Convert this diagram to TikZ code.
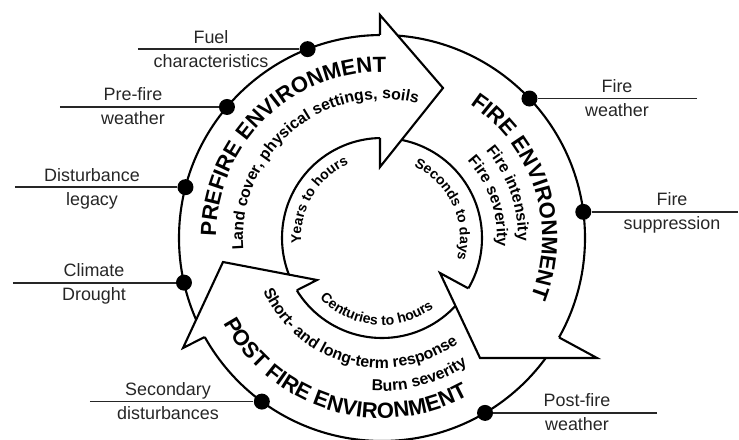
\documentclass[tikz,border=0pt]{standalone}
\usepackage{fontspec}
\setmainfont{Liberation Sans}
\usetikzlibrary{decorations.text}
\usetikzlibrary{calc}
\newcommand\envfont{\bfseries\fontsize{12.5}{14}\selectfont}
\newcommand\notefont{\bfseries\fontsize{9}{11}\selectfont}
\newcommand\timefont{\bfseries\fontsize{8}{10}\selectfont}
\tikzset{
  ring/.style={line width=1.2pt},
  dot/.style={circle, fill, inner sep=0pt, minimum size=0.32cm},
  lab/.style={font=\fontsize{10.2}{12}\selectfont, text=black!85, inner sep=0pt, anchor=base},
  arctext/.style={decorate, decoration={text along path, text align=center, text={#1}}}
}
\begin{document}
\begin{tikzpicture}[x=0.02cm,y=0.02cm]
\useasboundingbox (-382,-201) rectangle (357,238);
\draw[ring] (0,0) circle[radius=203];
\draw[ring] (0,0) circle[radius=100];
% heads
\coordinate (preA) at (-2,203);
\coordinate (preO) at (-2,223);
\coordinate (preT) at (61,150);
\coordinate (preI) at (-2,71);
\coordinate (preB) at (-2,100);
\fill[white] (preO) -- (preT) -- (preI) -- cycle;
\draw[ring] (preA) -- (preO) -- (preT) -- (preI) -- (preB);
\coordinate (fireA) at (177,-99.4);
\coordinate (fireO) at (215,-120);
\coordinate (fireT) at (98,-120);
\coordinate (fireI) at (58,-35);
\coordinate (fireB) at (86.4,-50.4);
\fill[white] (fireO) -- (fireT) -- (fireI) -- cycle;
\draw[ring] (fireA) -- (fireO) -- (fireT) -- (fireI) -- (fireB);
\coordinate (postA) at (-177.3,-99);
\coordinate (postO) at (-199,-110);
\coordinate (postT) at (-159,-24);
\coordinate (postI) at (-65,-42);
\coordinate (postB) at (-85.2,-52.3);
\fill[white] (postO) -- (postT) -- (postI) -- cycle;
\draw[ring] (postA) -- (postO) -- (postT) -- (postI) -- (postB);
% texts on the ring
\path[arctext={|\envfont|PREFIRE ENVIRONMENT}] (194:166) arc[start angle=194, end angle=74, radius=166];
\path[arctext={|\envfont|FIRE ENVIRONMENT}] (77.5:160) arc[start angle=77.5, end angle=-42.5, radius=160];
\path[arctext={|\envfont|POST FIRE ENVIRONMENT}] (193.5:180) arc[start angle=193.5, end angle=313.5, radius=180];
\path[arctext={|\notefont|Land cover, physical settings, soils}] (190:139) arc[start angle=190, end angle=70, radius=139];
\path[arctext={|\notefont|Fire intensity}] (79.5:136) arc[start angle=79.5, end angle=-40.5, radius=136];
\path[arctext={|\notefont|Fire severity}] (79:115) arc[start angle=79, end angle=-41, radius=115];
\path[arctext={|\notefont|Short- and long-term response}] (195:130) arc[start angle=195, end angle=315, radius=130];
\path[arctext={|\notefont|Burn severity}] (225:153) arc[start angle=225, end angle=345, radius=153];
\path[arctext={|\timefont|Years to hours}] (209:81) arc[start angle=209, end angle=89, radius=81];
\path[arctext={|\timefont|Seconds to days}] (85:78) arc[start angle=85, end angle=-35, radius=78];
\path[arctext={|\timefont|Centuries to hours}] (205.5:87) arc[start angle=205.5, end angle=325.5, radius=87];
% factors
\foreach \n/\a/\e/\x/\up/\dn in {
  fuel/111.5/-244/-171/Fuel/characteristics,
  prewx/139.8/-322/-249/Pre-fire/weather,
  legacy/165.5/-367/-290/Disturbance/legacy,
  climate/192.7/-369/-288/Climate/Drought,
  second/233.7/-292/-214/Secondary/disturbances,
  firewx/43.4/315/235/Fire/weather,
  supp/7.4/356/290/Fire/suppression,
  postwx/300.5/275/195/Post-fire/weather}
{
  \node[dot] (\n) at (\a:203) {};
  \coordinate (\n-end) at (\n -| \e,0);
  \draw[line width=1pt, black!85] (\n-end) -- (\n);
  \node[lab] (\n-up) at ($(\n -| \x,0)+(0,6)$) {\up};
  \node[lab] (\n-dn) at ($(\n -| \x,0)+(0,-18)$) {\dn};
}
\end{tikzpicture}
\end{document}
